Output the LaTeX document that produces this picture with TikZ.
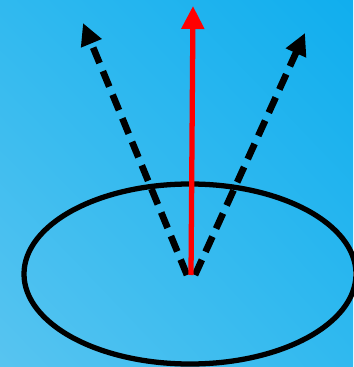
\documentclass[tikz,border=0pt]{standalone}
\usepackage{tikz}
\usetikzlibrary{arrows.meta, shadings}

\definecolor{skylight}{RGB}{88,196,240}
\definecolor{skydark}{RGB}{16,174,238}
\definecolor{skymid}{RGB}{48,185,239}

\begin{document}
\begin{tikzpicture}[
    x=0.02cm, y=-0.02cm,
    ray/.style={line width=3.8pt, dash pattern=on 9.5pt off 5pt,
        -{Triangle[length=0.44cm, width=0.42cm]}},
    normal/.style={line width=3pt, red,
        -{Triangle[length=0.46cm, width=0.44cm]}},
    rim/.style={line width=3pt}
]
    % background
    \shade[lower left=skylight, upper right=skydark,
        upper left=skymid, lower right=skymid] (0,0) rectangle (353,367);
    \useasboundingbox (0,0) rectangle (353,367);

    % points
    \coordinate (o) at (191,275);
    \coordinate (c) at (190,274);
    \coordinate (left) at (83,23);
    \coordinate (right) at (305,33);
    \coordinate (up) at (193,6);

    % surface
    \draw[rim] (c) ellipse [x radius=166, y radius=90];

    % rays
    \draw[ray] ([xshift=-0.08cm]o) -- (left);
    \draw[ray] ([xshift=0.08cm]o) -- (right);
    \draw[normal] (o) -- (up);
\end{tikzpicture}
\end{document}
